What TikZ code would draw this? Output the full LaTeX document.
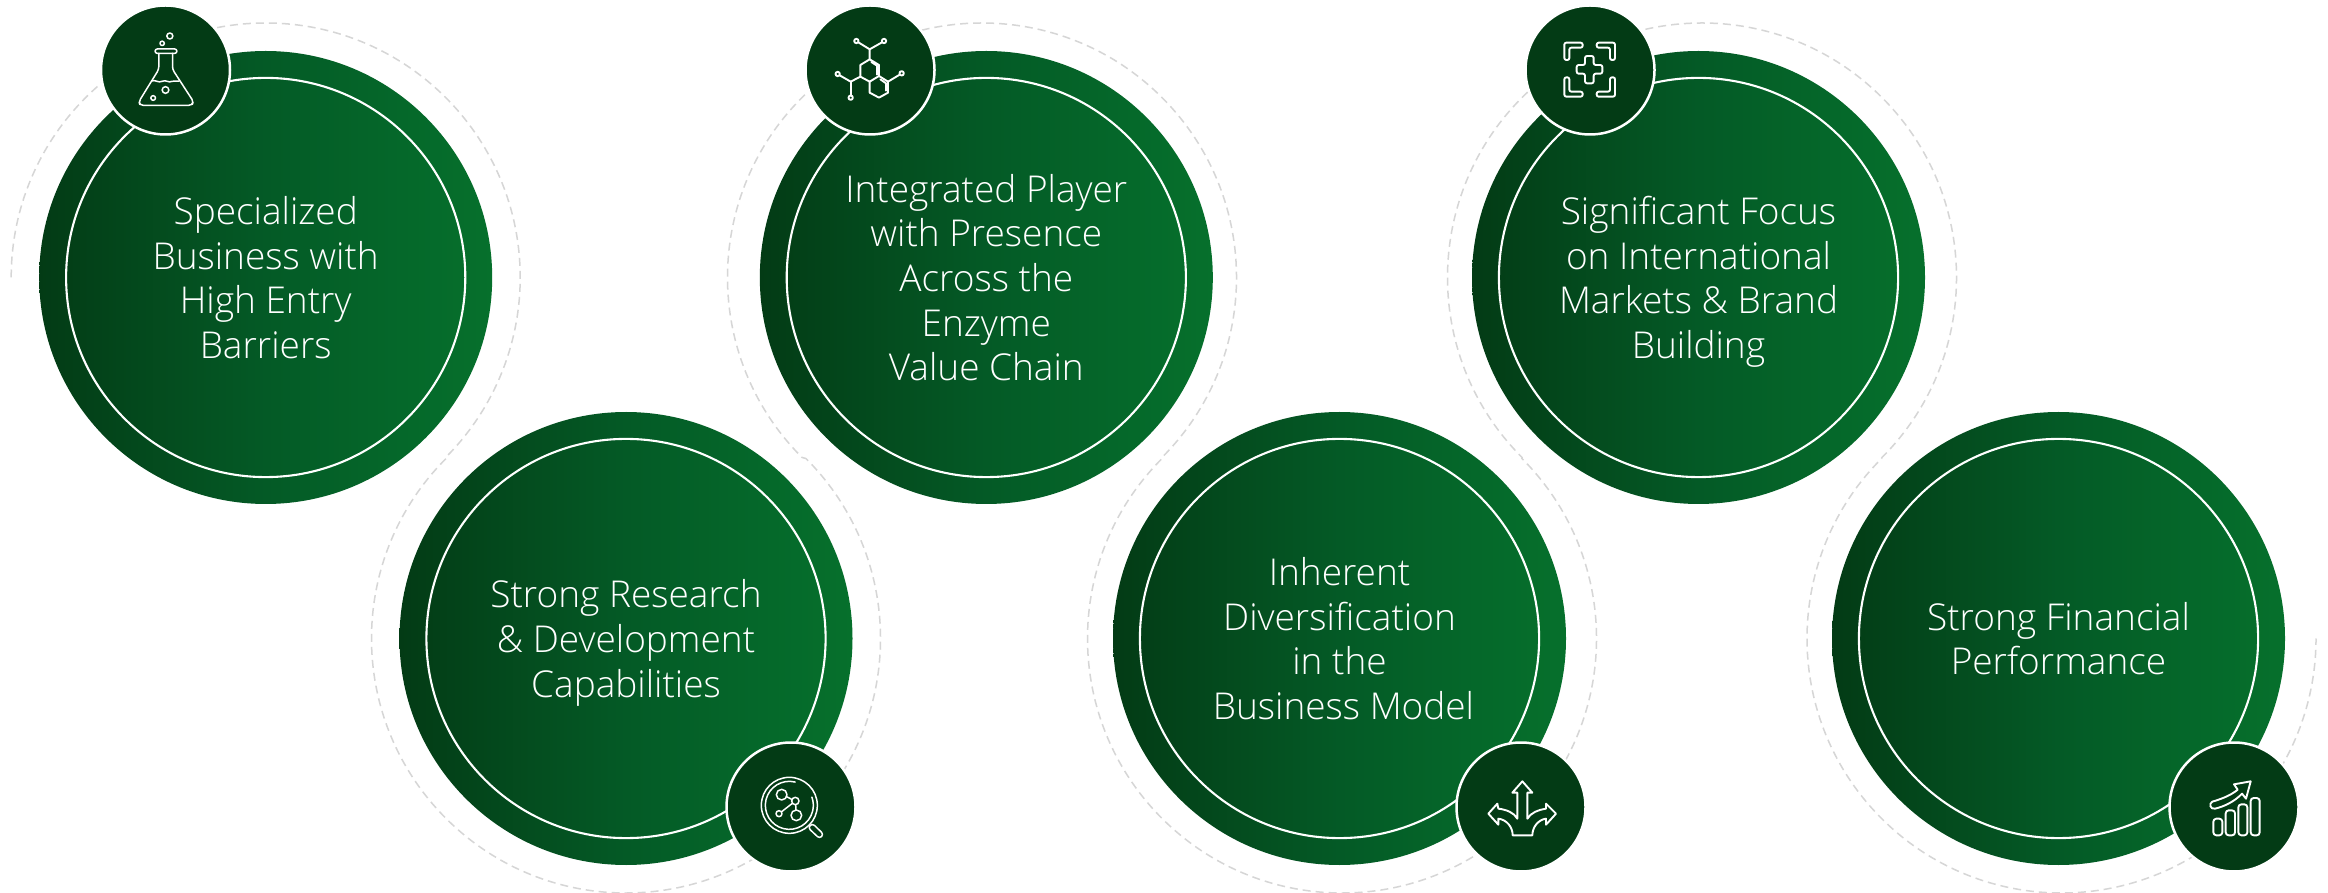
\documentclass[tikz,border=0pt]{standalone}
\usepackage{fontspec}
\setmainfont{Open Sans}[UprightFont=* Light]
\usetikzlibrary{calc}
\definecolor{gdark}{HTML}{033B15}
\definecolor{gmid}{HTML}{045A26}
\definecolor{gplat}{HTML}{05682A}
\definecolor{glight}{HTML}{06702C}
\definecolor{dashgray}{HTML}{D6D6D6}
\pgfdeclarehorizontalshading{gr}{100bp}{color(0bp)=(gdark); color(25bp)=(gdark); color(50bp)=(gmid); color(65bp)=(gplat); color(75bp)=(glight); color(100bp)=(glight)}
\tikzset{
  bigdisc/.style={circle,minimum size=453pt,inner sep=0pt,shading=gr,draw=none},
  innerline/.style={draw=white,line width=2.1pt},
  ringpath/.style={draw=dashgray,line width=1.5pt,dash pattern=on 8pt off 5pt},
  label/.style={text=white,align=center,yshift=-5pt,font=\fontsize{37}{44.7}\selectfont},
  badge/.style={circle,minimum size=129pt,inner sep=0pt,fill=gdark,draw=white,line width=2.5pt},
  iconline/.style={draw=white,line width=1.5pt,line join=round,line cap=round},
  iconbold/.style={draw=white,line width=1.9pt,line join=round,line cap=round}
}
\def\Rr{254.5pt}
\begin{document}
\begin{tikzpicture}[x=1pt,y=1pt]
\useasboundingbox (0,0) rectangle (2328,892);
\fill[white] (0,0) rectangle (2328,892);
\coordinate (C1) at (265.7,614.5);
\coordinate (C2) at (626,253.5);
\coordinate (C3) at (986.3,614.5);
\coordinate (C4) at (1339.5,253.5);
\coordinate (C5) at (1698.5,614.5);
\coordinate (C6) at (2058.5,253.5);
\coordinate (R1) at (265.7,614.5);
\coordinate (R2) at (626,253.5);
\coordinate (R3) at (982,614.5);
\coordinate (R4) at (1342,253.5);
\coordinate (R5) at (1702,614.5);
\coordinate (R6) at (2061.5,253.5);
% dashed serpentine
\draw[ringpath] ($(R1)+(180:\Rr)$) arc[start angle=180,end angle=-45,radius=\Rr]
  -- ($(R2)+(135:\Rr)$) arc[start angle=135,end angle=405,radius=\Rr]
  -- ($(R3)+(225:\Rr)$) arc[start angle=225,end angle=-45,radius=\Rr]
  -- ($(R4)+(135:\Rr)$) arc[start angle=135,end angle=405,radius=\Rr]
  -- ($(R5)+(225:\Rr)$) arc[start angle=225,end angle=-45,radius=\Rr]
  -- ($(R6)+(135:\Rr)$) arc[start angle=135,end angle=360,radius=\Rr];
% discs
\foreach \c/\n in {C1/d1,C2/d2,C3/d3,C4/d4,C5/d5,C6/d6}{
  \node[bigdisc] (\n) at (\c) {};
  \draw[innerline] (\c) circle[radius=199.6pt];
}
\node[label] (t1) at (C1) {\strut Specialized\\Business with\\High Entry\\Barriers\strut};
\node[label] (t2) at (C2) {\strut Strong Research\\\& Development\\Capabilities\strut};
\node[label] (t3) at (C3) {\strut Integrated Player\\with Presence\\Across the\\Enzyme\\Value Chain\strut};
\node[label] (t4) at (C4) {\strut Inherent\\Diversification\\in the\\\hspace*{8pt}Business Model\strut};
\node[label] (t5) at (C5) {\strut Significant Focus\\on International\\Markets \& Brand\\Building\strut};
\node[label] (t6) at (C6) {\strut Strong Financial\\Performance\strut};
% badges
\node[badge] (b1) at (165.5,822) {};
\node[badge] (b3) at (870,822) {};
\node[badge] (b5) at (1590,822) {};
\node[badge] (b2) at (791,85) {};
\node[badge] (b4) at (1521,85) {};
\node[badge] (b6) at (2234,85) {};
% flask
\begin{scope}[shift={(b1.center)},scale=0.33333,yscale=-1,shift={(-226,-210)}]
\draw[iconline,rounded corners=2pt] (195,147) rectangle (260,160);
\draw[iconline,rounded corners=3pt] (206,160) -- (206,208) -- (146,305) -- (150,316) -- (305,316) -- (310,305) -- (247,208) -- (247,160);
\draw[iconline] (184,243) .. controls (195,238) and (205,250) .. (216,244) .. controls (226,238) and (236,250) .. (246,244) .. controls (254,240) and (260,246) .. (268,243);
\draw[iconline] (239,108) circle[radius=9];
\draw[iconline] (216,130) circle[radius=6.5];
\draw[iconline] (226,270) circle[radius=10];
\draw[iconline] (189,294) circle[radius=7];
\end{scope}
% molecule
\begin{scope}[shift={(b3.center)},scale=0.33333,yscale=-1,shift={(-241,-210)}]
\draw[iconbold] (240,178) -- (268,195) -- (268,228) -- (240,245) -- (212,230) -- (212,195) -- cycle;
\draw[iconbold] (240,245) -- (240,278) -- (268,293) -- (295,278) -- (295,245) -- (268,228);
\draw[iconbold] (245,186) -- (262,197) -- (262,224);
\draw[iconbold] (272,238) -- (289,250) -- (289,272);
\draw[iconbold] (240,178) -- (240,148) -- (206,127);
\draw[iconbold] (240,148) -- (277,127);
\draw[iconbold] (212,230) -- (183,245) -- (150,226);
\draw[iconbold] (183,245) -- (183,287);
\draw[iconbold] (295,245) -- (330,224);
\foreach \p in {(200,123),(283,123),(144,222),(183,293),(336,220)}
  \draw[iconbold] \p circle[radius=6.5];
\end{scope}
% focus plus
\begin{scope}[shift={(b5.center)},scale=0.33333,yscale=-1,shift={(-240,-210)}]
\begin{scope}[iconline,line width=1.9pt,rounded corners=2pt]
\draw (163,180) -- (163,128) -- (218,128) -- (218,143) -- (178,143) -- (178,180) -- cycle;
\draw (315,180) -- (315,128) -- (260,128) -- (260,143) -- (300,143) -- (300,180) -- cycle;
\draw (163,232) -- (163,290) -- (218,290) -- (218,275) -- (178,275) -- (178,232) -- cycle;
\draw (315,232) -- (315,290) -- (260,290) -- (260,275) -- (300,275) -- (300,232) -- cycle;
\draw (225,168) -- (251,168) -- (251,195) -- (277,195) -- (277,221) -- (251,221) -- (251,250) -- (225,250) -- (225,221) -- (200,221) -- (200,195) -- (225,195) -- cycle;
\end{scope}
\end{scope}
% magnifier
\begin{scope}[shift={(b2.center)},scale=0.33333,yscale=-1,shift={(-228,-230)}]
\begin{scope}[iconline]
\draw (223,225) circle[radius=84];
\draw (223,225) ++(-76:72) arc[start angle=-76,end angle=-380,radius=72];
\draw[rounded corners=3pt] (292,279) -- (326,312) -- (314,325) -- (279,292) -- cycle;
\draw (200,193) circle[radius=16];
\draw (241,212) circle[radius=11];
\draw (244,255) circle[radius=16];
\draw (192,250) circle[radius=9];
\draw (215,199) -- (230,207);
\draw (242,223) -- (243,239);
\draw (232,219) -- (200,244);
\end{scope}
\end{scope}
% arrows
\begin{scope}[shift={(b4.center)},scale=0.33333,yscale=-1,shift={(-228,-230)}]
\draw[iconbold] (232,153) -- (262,187) -- (247,187) -- (247,265)
 .. controls (258,247) and (280,238) .. (303,235) -- (303,220) -- (333,250) -- (303,283) -- (303,265)
 .. controls (280,268) and (262,290) .. (262,315) -- (203,315)
 .. controls (203,290) and (185,268) .. (160,265) -- (160,283) -- (130,250) -- (157,220) -- (160,235)
 .. controls (185,238) and (207,247) .. (217,265) -- (217,187) -- (202,187) -- cycle;
\end{scope}
% chart
\begin{scope}[shift={(b6.center)},scale=0.33333,yscale=-1,shift={(-222,-230)}]
\begin{scope}[iconbold]
\draw[rounded corners=3pt] (160,265) rectangle (187,315);
\draw[rounded corners=3pt] (197,240) rectangle (225,315);
\draw[rounded corners=3pt] (235,222) rectangle (262,315);
\draw[rounded corners=3pt] (272,203) rectangle (299,315);
\draw (272,153) -- (222,162) -- (233,178) .. controls (210,197) and (180,207) .. (157,214)
 .. controls (146,219) and (150,238) .. (165,235)
 .. controls (195,228) and (225,212) .. (246,190) -- (258,205) -- cycle;
\end{scope}
\end{scope}
\end{tikzpicture}
\end{document}
